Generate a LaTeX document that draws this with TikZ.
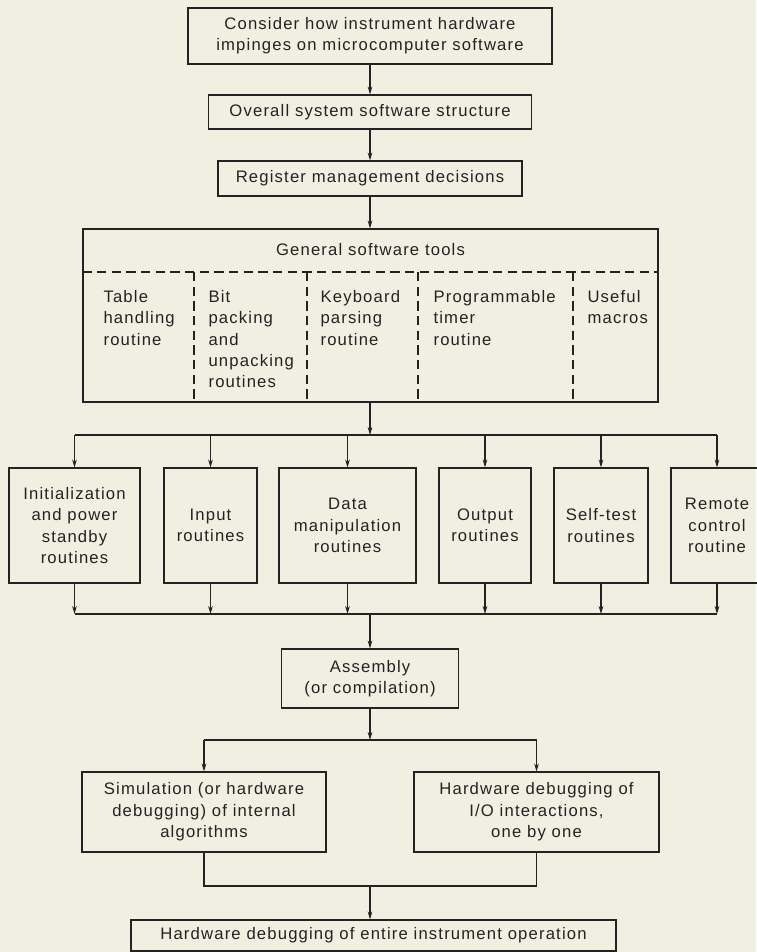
\documentclass[tikz,border=0pt]{standalone}
\usepackage{fontspec}
\setmainfont[LetterSpace=7]{Liberation Sans}
\usetikzlibrary{arrows.meta}
\definecolor{paper}{RGB}{241,239,226}
\definecolor{ink}{RGB}{35,35,35}

\tikzset{
  box/.style 2 args={draw, align=center, inner sep=0pt,
    minimum width=#1*0.75pt, minimum height=#2*0.75pt},
  col/.style={anchor=north west, align=left, inner sep=0pt},
  sepline/.style={dashed, dash pattern=on 7pt off 4pt},
}

\begin{document}
\begin{tikzpicture}[x=0.75pt,y=-0.75pt, ink, line width=0.8pt,
    font=\fontsize{12.5}{16}\selectfont, >={Stealth[length=6pt,width=3.5pt]}]
    \fill[paper] (0,0) rectangle (756,952);
    \useasboundingbox (0,0) rectangle (756,952);

    % top chain
    \node[box={364}{56}] (top) at (370,36) {Consider how instrument hardware\\impinges on microcomputer software};
    \node[box={323}{34}] (overall) at (370,112) {Overall system software structure};
    \node[box={304}{35}] (register) at (370,178.5) {Register management decisions};
    \draw[->] (top) -- (overall);
    \draw[->] (overall) -- (register);

    % tools box
    \node[box={575}{173}] (tools) at (370.5,315.5) {};
    \node (toolshead) at (370.5,250) {General software tools};
    \coordinate (sep) at (370.5,272);
    \draw[->] (register) -- (register.south |- tools.north);
    \draw[sepline] (tools.west |- sep) -- (tools.east |- sep);
    \foreach \x in {194,307,418,573}
      \draw[sepline] (\x,272) -- (\x,402);
    \node[col] (table) at (103,290) {Table\\handling\\routine};
    \node[col] (bits) at (208,290) {Bit\\packing\\and\\unpacking\\routines};
    \node[col] (keys) at (320,290) {Keyboard\\parsing\\routine};
    \node[col] (timer) at (433,290) {Programmable\\timer\\routine};
    \node[col] (macros) at (587,290) {Useful\\macros};

    % six routine boxes
    \node[box={131}{115}] (init) at (74.5,525.5) {Initialization\\and power\\standby\\routines};
    \node[box={93}{115}] (input) at (210.5,525.5) {Input\\routines};
    \node[box={137}{115}] (data) at (347.5,525.5) {Data\\manipulation\\routines};
    \node[box={92}{115}] (output) at (485,525.5) {Output\\routines};
    \node[box={94}{115}] (selftest) at (601,525.5) {Self-test\\routines};
    \node[box={92}{115}] (remote) at (717,525.5) {Remote\\control\\routine};

    \coordinate (splitA) at (370,435);
    \coordinate (mergeA) at (370,614);
    \draw[->] (tools.south -| splitA) -- (splitA);
    \draw (init.north |- splitA) -- (remote.north |- splitA);
    \draw (init.south |- mergeA) -- (remote.south |- mergeA);
    \foreach \n in {init,input,data,output,selftest,remote} {
      \draw[->] (\n.north |- splitA) -- (\n.north);
      \draw[->] (\n.south) -- (\n.south |- mergeA);
    }

    % assembly and debugging
    \node[box={177}{59}] (assembly) at (370,678.5) {Assembly\\(or compilation)};
    \draw[->] (mergeA) -- (assembly);
    \node[box={244}{80}] (sim) at (204,812) {Simulation (or hardware\\debugging) of internal\\algorithms};
    \node[box={245}{80}] (hwio) at (536.5,812) {Hardware debugging of\\I/O interactions,\\one by one};
    \node[box={485}{31}] (final) at (373.5,935.5) {Hardware debugging of entire instrument operation};

    \coordinate (splitB) at (370,740);
    \coordinate (mergeB) at (370,886);
    \draw[->] (assembly) -- (splitB);
    \draw (sim.north |- splitB) -- (hwio.north |- splitB);
    \draw[->] (sim.north |- splitB) -- (sim.north);
    \draw[->] (hwio.north |- splitB) -- (hwio.north);
    \draw (sim.south) -- (sim.south |- mergeB) -- (hwio.south |- mergeB) -- (hwio.south);
    \draw[->] (mergeB) -- (mergeB |- final.north);
\end{tikzpicture}
\end{document}
